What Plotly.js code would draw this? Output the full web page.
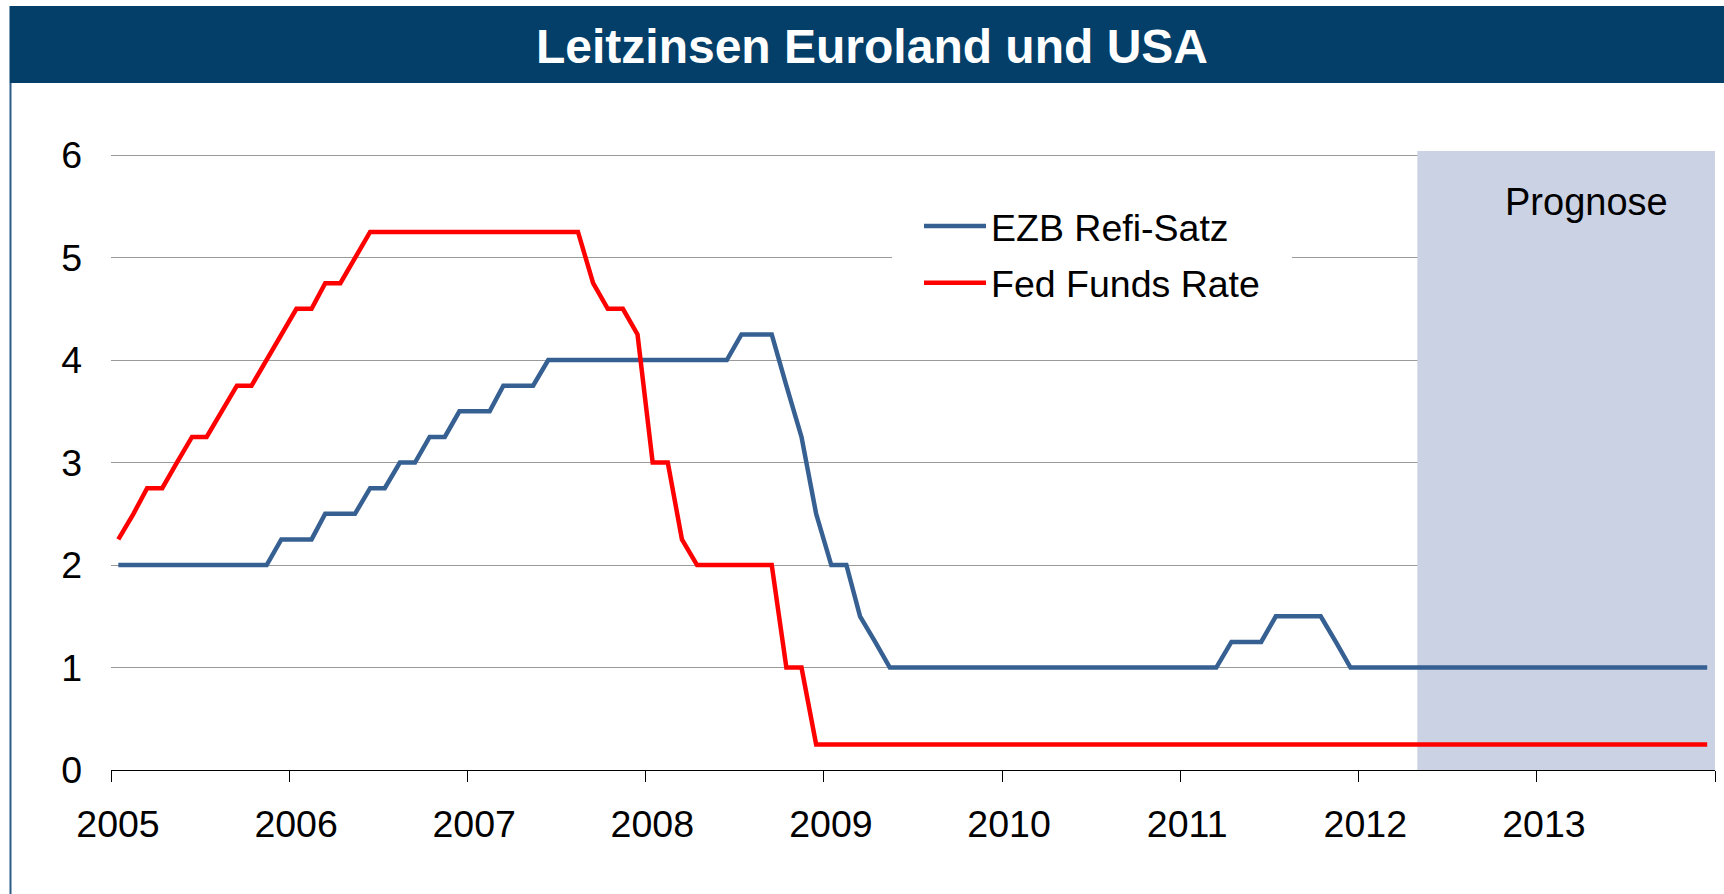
<!DOCTYPE html>
<html>
<head>
<meta charset="utf-8">
<script src="https://cdn.plot.ly/plotly-3.0.1.min.js"></script>
<style>
  html, body { margin: 0; padding: 0; background: #ffffff; }
  #chart { width: 1724px; height: 894px; }
</style>
</head>
<body>
<div id="chart"></div>
<script>
// ---- Data (month-end values, Jan 2005 – Dec 2013) ----
const years = [2005, 2006, 2007, 2008, 2009, 2010, 2011, 2012, 2013];
const monthNums = ['01','02','03','04','05','06','07','08','09','10','11','12'];

const ezbRefi = [
  // 2005
  2.00, 2.00, 2.00, 2.00, 2.00, 2.00, 2.00, 2.00, 2.00, 2.00, 2.00, 2.25,
  // 2006
  2.25, 2.25, 2.50, 2.50, 2.50, 2.75, 2.75, 3.00, 3.00, 3.25, 3.25, 3.50,
  // 2007
  3.50, 3.50, 3.75, 3.75, 3.75, 4.00, 4.00, 4.00, 4.00, 4.00, 4.00, 4.00,
  // 2008
  4.00, 4.00, 4.00, 4.00, 4.00, 4.00, 4.25, 4.25, 4.25, 3.75, 3.25, 2.50,
  // 2009
  2.00, 2.00, 1.50, 1.25, 1.00, 1.00, 1.00, 1.00, 1.00, 1.00, 1.00, 1.00,
  // 2010
  1.00, 1.00, 1.00, 1.00, 1.00, 1.00, 1.00, 1.00, 1.00, 1.00, 1.00, 1.00,
  // 2011
  1.00, 1.00, 1.00, 1.25, 1.25, 1.25, 1.50, 1.50, 1.50, 1.50, 1.25, 1.00,
  // 2012
  1.00, 1.00, 1.00, 1.00, 1.00, 1.00, 1.00, 1.00, 1.00, 1.00, 1.00, 1.00,
  // 2013
  1.00, 1.00, 1.00, 1.00, 1.00, 1.00, 1.00, 1.00, 1.00, 1.00, 1.00, 1.00
];

const fedFunds = [
  // 2005
  2.25, 2.50, 2.75, 2.75, 3.00, 3.25, 3.25, 3.50, 3.75, 3.75, 4.00, 4.25,
  // 2006
  4.50, 4.50, 4.75, 4.75, 5.00, 5.25, 5.25, 5.25, 5.25, 5.25, 5.25, 5.25,
  // 2007
  5.25, 5.25, 5.25, 5.25, 5.25, 5.25, 5.25, 5.25, 4.75, 4.50, 4.50, 4.25,
  // 2008
  3.00, 3.00, 2.25, 2.00, 2.00, 2.00, 2.00, 2.00, 2.00, 1.00, 1.00, 0.25,
  // 2009
  0.25, 0.25, 0.25, 0.25, 0.25, 0.25, 0.25, 0.25, 0.25, 0.25, 0.25, 0.25,
  // 2010
  0.25, 0.25, 0.25, 0.25, 0.25, 0.25, 0.25, 0.25, 0.25, 0.25, 0.25, 0.25,
  // 2011
  0.25, 0.25, 0.25, 0.25, 0.25, 0.25, 0.25, 0.25, 0.25, 0.25, 0.25, 0.25,
  // 2012
  0.25, 0.25, 0.25, 0.25, 0.25, 0.25, 0.25, 0.25, 0.25, 0.25, 0.25, 0.25,
  // 2013
  0.25, 0.25, 0.25, 0.25, 0.25, 0.25, 0.25, 0.25, 0.25, 0.25, 0.25, 0.25
];

const seriesNames = ['EZB Refi-Satz', 'Fed Funds Rate'];
const tickYears = ['2005-01-01','2006-01-01','2007-01-01','2008-01-01','2009-01-01',
                   '2010-01-01','2011-01-01','2012-01-01','2013-01-01','2014-01-01'];
const tickLabels = ['2005','2006','2007','2008','2009','2010','2011','2012','2013',''];
const xRange = ['2005-01-01', '2014-01-01'];
const forecastStart = '2012-05-01';
const forecastLabel = 'Prognose';
const chartTitle = 'Leitzinsen Euroland und USA';

// month categories (each point sits in the middle of its month)
const months = [];
years.forEach(y => monthNums.forEach(m => months.push(y + '-' + m + '-16')));

// ---- Layout geometry ----
const W = 1724, H = 894;
const M = { l: 111, r: 9, t: 151, b: 124 };
const plotW = W - M.l - M.r, plotH = H - M.t - M.b;
const px2paperX = px => (px - M.l) / plotW;
const px2paperY = py => (H - M.b - py) / plotH;

const FONT = '"Liberation Sans", Arial, sans-serif';

const traces = [
  {
    x: months, y: ezbRefi, name: seriesNames[0], type: 'scatter', mode: 'lines',
    line: { color: '#376092', width: 4.5 }, legendgroup: 'a', hoverinfo: 'x+y'
  },
  {
    x: months, y: fedFunds, name: seriesNames[1], type: 'scatter', mode: 'lines',
    line: { color: '#FF0000', width: 4.5 }, legendgroup: 'b', hoverinfo: 'x+y'
  }
];

const layout = {
  width: W, height: H,
  margin: M,
  paper_bgcolor: '#ffffff',
  plot_bgcolor: '#ffffff',
  font: { family: FONT, color: '#000000', size: 37.5 },
  title: {
    text: chartTitle,
    font: { family: FONT, size: 48, color: '#ffffff', weight: 'bold' },
    x: 872 / W, xref: 'container', xanchor: 'center',
    y: 1 - 46 / H, yref: 'container', yanchor: 'middle'
  },
  showlegend: true,
  legend: {
    x: px2paperX(892), xanchor: 'left',
    y: px2paperY(168), yanchor: 'top',
    bgcolor: '#ffffff', bordercolor: '#ffffff', borderwidth: 27,
    font: { family: FONT, size: 37.5, color: '#000000' },
    itemwidth: 62,
    traceorder: 'grouped', tracegroupgap: 5
  },
  xaxis: {
    type: 'date',
    range: xRange,
    tickmode: 'array', tickvals: tickYears, ticktext: tickLabels,
    ticks: 'outside', ticklen: 11, tickcolor: '#000000', tickwidth: 1,
    ticklabelshift: 7, ticklabelstandoff: 10,
    showline: true, linecolor: '#000000', linewidth: 1,
    showgrid: false, zeroline: false,
    tickfont: { family: FONT, size: 37.5, color: '#000000' },
    fixedrange: true
  },
  yaxis: {
    range: [0, 6.04],
    tickmode: 'linear', tick0: 0, dtick: 1,
    ticks: '', showline: false, zeroline: false,
    showgrid: true, gridcolor: '#9A9A9A', gridwidth: 1,
    ticklabelstandoff: 28,
    tickfont: { family: FONT, size: 37.5, color: '#000000' },
    fixedrange: true
  },
  shapes: [
    // forecast shading
    {
      type: 'rect', xref: 'x', yref: 'y', layer: 'between',
      x0: forecastStart, x1: xRange[1], y0: 0, y1: 6.04,
      fillcolor: '#CAD2E3', line: { width: 0 }
    },
    // title bar
    {
      type: 'rect', xref: 'paper', yref: 'paper', layer: 'below',
      x0: px2paperX(9.5), x1: px2paperX(W + 2), y0: px2paperY(83), y1: px2paperY(6),
      fillcolor: '#033F69', line: { width: 0 }
    },
    // left frame line
    {
      type: 'line', xref: 'paper', yref: 'paper', layer: 'below',
      x0: px2paperX(10.5), x1: px2paperX(10.5), y0: px2paperY(83), y1: px2paperY(H + 2),
      line: { color: '#2C5C88', width: 2 }
    }
  ],
  annotations: [
    {
      text: forecastLabel, xref: 'paper', yref: 'paper',
      x: px2paperX(1586), y: px2paperY(202), xanchor: 'center', yanchor: 'middle',
      showarrow: false,
      font: { family: FONT, size: 38, color: '#000000' }
    }
  ]
};

Plotly.newPlot('chart', traces, layout, { displayModeBar: false, staticPlot: true });
</script>
</body>
</html>
